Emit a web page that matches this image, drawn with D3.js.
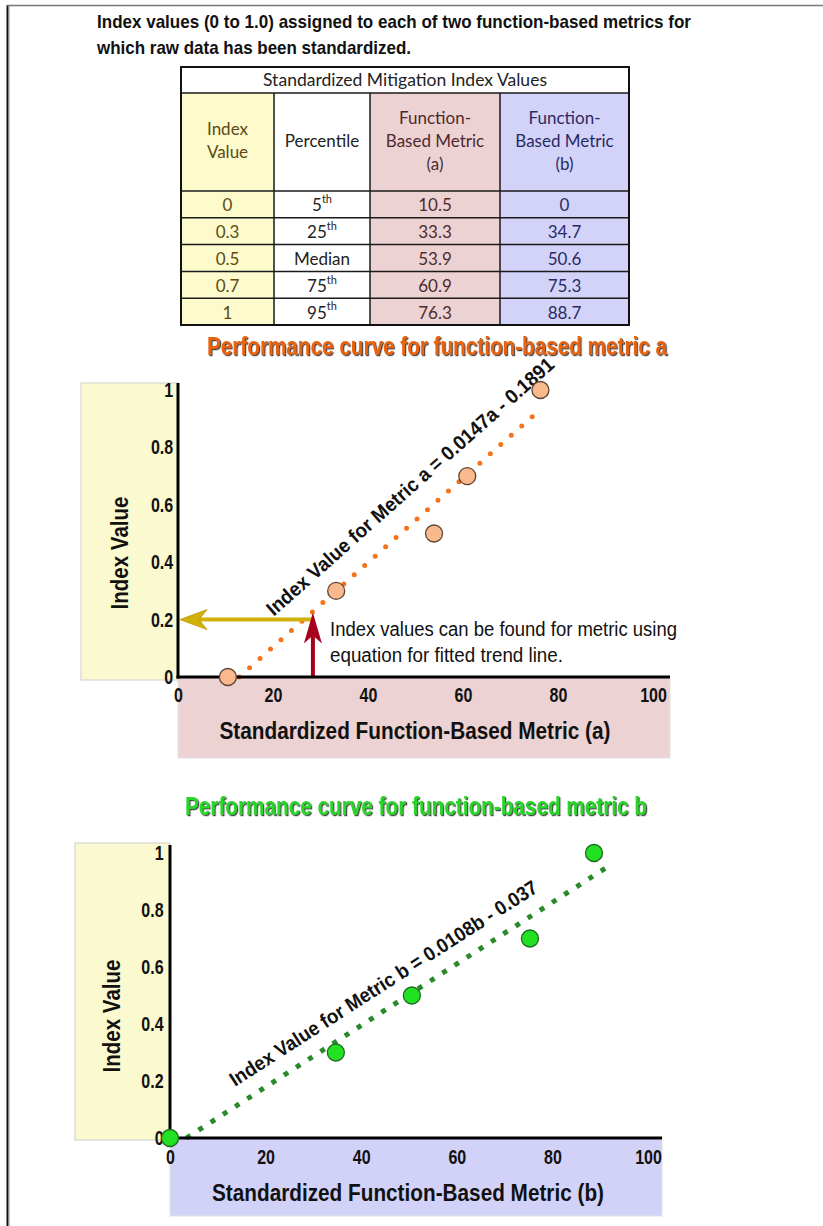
<!DOCTYPE html>
<html>
<head>
<meta charset="utf-8">
<script src="https://cdn.jsdelivr.net/npm/d3@7"></script>
<style>
  html, body { margin: 0; padding: 0; background: #fff; }
  svg { display: block; }
  .narrow { font-family: "Liberation Sans Narrow", "Arial Narrow", "Liberation Sans", Arial, sans-serif; }
  .tbl { font-family: Lato, "Open Sans", "Noto Sans", sans-serif; }
</style>
</head>
<body>
<svg id="fig" width="823" height="1226"></svg>
<script>
// ---- Data ----
const indexValues = [0, 0.3, 0.5, 0.7, 1];
const percentiles = ["5th", "25th", "Median", "75th", "95th"];
const metricA = [10.5, 33.3, 53.9, 60.9, 76.3];
const metricB = [0, 34.7, 50.6, 75.3, 88.7];

// fitted trend lines: [slope, intercept] and the metric value where the drawn line stops
const fitA = [0.0147, -0.1891];
const fitB = [0.0108, -0.037];
const fitEndA = 75;
const fitEndB = 92;

const xTicks = [0, 20, 40, 60, 80, 100];
const yTicks = [0, 0.2, 0.4, 0.6, 0.8, 1];

// worked example on chart a: read 0.2 off the fitted line
const exampleMetricA = 28.4;
const exampleIndexA = 0.2;

const svg = d3.select("#fig");
const defs = svg.append("defs");
defs.append("filter").attr("id", "titleShadow")
  .attr("x", "-5%").attr("y", "-20%").attr("width", "110%").attr("height", "150%")
  .append("feDropShadow")
  .attr("dx", 1.2).attr("dy", 1.2).attr("stdDeviation", 0.7)
  .attr("flood-color", "#333").attr("flood-opacity", 0.9);

// page frame
svg.append("line").attr("x1", 7.5).attr("y1", 5).attr("x2", 7.5).attr("y2", 1226)
  .attr("stroke", "#111").attr("stroke-width", 2);
svg.append("line").attr("x1", 9.5).attr("y1", 6).attr("x2", 9.5).attr("y2", 1226)
  .attr("stroke", "#ccc").attr("stroke-width", 1);
svg.append("line").attr("x1", 7).attr("y1", 5.5).attr("x2", 823).attr("y2", 5.5)
  .attr("stroke", "#777").attr("stroke-width", 1.5);

// ---- Heading ----
const heading = [
  "Index values (0 to 1.0) assigned to each of two function-based metrics for",
  "which raw data has been standardized."
];
const headingLen = [594, 314];
svg.append("g").selectAll("text").data(heading).join("text")
  .attr("class", "narrow")
  .attr("x", 97)
  .attr("y", (d, i) => 28 + i * 26)
  .attr("font-size", 19).attr("font-weight", "bold").attr("fill", "#111")
  .attr("textLength", (d, i) => headingLen[i]).attr("lengthAdjust", "spacingAndGlyphs")
  .text(d => d);

// ---- Table ----
(function drawTable() {
  const colX = [181, 274, 370, 500, 629];
  const colFill = ["#fdfbcb", "#ffffff", "#edd2d3", "#d3d3fa"];
  const colText = ["#5a4a18", "#222222", "#4e2a2c", "#2a2a62"];
  const top = 67, titleBottom = 93, headBottom = 191, rowH = 26.8;
  const fs = 17;
  const g = svg.append("g").attr("class", "tbl");

  // title row
  g.append("rect").attr("x", colX[0]).attr("y", top)
    .attr("width", colX[4] - colX[0]).attr("height", titleBottom - top).attr("fill", "#fff");
  g.append("text").attr("x", (colX[0] + colX[4]) / 2).attr("y", (top + titleBottom) / 2)
    .attr("dy", "0.35em").attr("text-anchor", "middle").attr("font-size", fs)
    .attr("fill", "#222").attr("textLength", 284).attr("lengthAdjust", "spacingAndGlyphs")
    .text("Standardized Mitigation Index Values");

  // column fills
  colFill.forEach((c, i) => {
    g.append("rect").attr("x", colX[i]).attr("y", titleBottom)
      .attr("width", colX[i + 1] - colX[i])
      .attr("height", headBottom - titleBottom + rowH * indexValues.length)
      .attr("fill", c);
  });

  // header cells
  const headers = [["Index", "Value"], ["Percentile"], ["Function-", "Based Metric", "(a)"], ["Function-", "Based Metric", "(b)"]];
  headers.forEach((lines, i) => {
    const cx = (colX[i] + colX[i + 1]) / 2;
    const cy = (titleBottom + headBottom) / 2 - 1;
    lines.forEach((t, j) => {
      g.append("text").attr("x", cx)
        .attr("y", cy + (j - (lines.length - 1) / 2) * 23)
        .attr("dy", "0.35em").attr("text-anchor", "middle")
        .attr("font-size", fs).attr("fill", colText[i]).text(t);
    });
  });

  // data rows
  const cols = [indexValues.map(String), percentiles, metricA.map(d => d.toFixed(1)), metricB.map(String)];
  cols.forEach((vals, i) => {
    const cx = (colX[i] + colX[i + 1]) / 2;
    vals.forEach((v, r) => {
      const t = g.append("text").attr("x", cx)
        .attr("y", headBottom + rowH * (r + 0.5) + 1)
        .attr("dy", "0.35em").attr("text-anchor", "middle")
        .attr("font-size", fs).attr("fill", colText[i]);
      const m = /^(\d+)(th)$/.exec(v);
      if (m) {
        t.append("tspan").text(m[1]);
        t.append("tspan").attr("font-size", 11).attr("dy", "-0.75em").text(m[2]);
      } else {
        t.text(v);
      }
    });
  });

  // grid lines
  const bottom = headBottom + rowH * indexValues.length;
  const hLines = [titleBottom, headBottom].concat(d3.range(1, indexValues.length).map(r => headBottom + rowH * r));
  g.selectAll("line.h").data(hLines).join("line")
    .attr("x1", colX[0]).attr("x2", colX[4]).attr("y1", d => d).attr("y2", d => d)
    .attr("stroke", "#1a1a1a").attr("stroke-width", 1.5);
  g.selectAll("line.v").data(colX.slice(1, 4)).join("line")
    .attr("x1", d => d).attr("x2", d => d).attr("y1", titleBottom).attr("y2", bottom)
    .attr("stroke", "#1a1a1a").attr("stroke-width", 1.5);
  g.append("rect").attr("x", colX[0]).attr("y", top)
    .attr("width", colX[4] - colX[0]).attr("height", bottom - top)
    .attr("fill", "none").attr("stroke", "#111").attr("stroke-width", 2);
})();

// ---- Performance curves ----
function drawChart(o) {
  const g = svg.append("g");
  const x = d3.scaleLinear().domain([0, 100]).range([o.x0, o.x100]);
  const y = d3.scaleLinear().domain([0, 1]).range([o.y0, o.y1]);

  // background panels
  g.append("rect").attr("x", o.yPanel[0]).attr("y", o.yPanel[1])
    .attr("width", o.yPanel[2]).attr("height", o.yPanel[3])
    .attr("fill", "#fbf9cf").attr("stroke", "#d6d6d0").attr("stroke-width", 1.2);
  g.append("rect").attr("x", o.xPanel[0]).attr("y", o.xPanel[1])
    .attr("width", o.xPanel[2]).attr("height", o.xPanel[3])
    .attr("fill", o.xPanelFill).attr("stroke", "#e2e2e2").attr("stroke-width", 1);

  // title
  g.append("text").attr("class", "narrow")
    .attr("x", o.titleX).attr("y", o.titleY).attr("text-anchor", "middle")
    .attr("font-size", 25).attr("font-weight", "bold").attr("fill", o.titleColor)
    .attr("filter", "url(#titleShadow)")
    .attr("textLength", o.titleLen).attr("lengthAdjust", "spacingAndGlyphs")
    .text(o.title);

  // axes tick labels (condensed)
  const ya = g.append("g").attr("class", "narrow")
    .attr("transform", `translate(${o.x0},0)`)
    .call(d3.axisLeft(y).tickValues(yTicks).tickSize(0).tickPadding(o.yPad).tickFormat(d3.format("")));
  const xa = g.append("g").attr("class", "narrow")
    .attr("transform", `translate(0,${o.y0})`)
    .call(d3.axisBottom(x).tickValues(xTicks).tickSize(0).tickPadding(o.xPad).tickFormat(d3.format("")));
  [ya, xa].forEach(a => {
    a.select(".domain").remove();
    a.attr("font-family", null).attr("font-size", null);
    a.selectAll("text").attr("font-size", 20).attr("font-weight", "bold").attr("fill", "#111")
      .attr("transform", "scale(0.8,1)");
  });

  // axis titles
  g.append("text").attr("class", "narrow")
    .attr("x", o.xLabelX).attr("y", o.xLabelY).attr("text-anchor", "middle")
    .attr("font-size", 24).attr("font-weight", "bold").attr("fill", "#111")
    .attr("textLength", o.xLabelLen).attr("lengthAdjust", "spacingAndGlyphs")
    .text(o.xLabel);
  g.append("text").attr("class", "narrow")
    .attr("transform", `translate(${o.yLabelX},${o.yLabelY}) rotate(-90)`)
    .attr("text-anchor", "middle").attr("dy", "0.35em")
    .attr("font-size", 24).attr("font-weight", "bold").attr("fill", "#111")
    .attr("textLength", 113).attr("lengthAdjust", "spacingAndGlyphs")
    .text("Index Value");

  // fitted trend line (dotted)
  const fit = v => o.fit[0] * v + o.fit[1];
  const start = -o.fit[1] / o.fit[0];
  g.append("line")
    .attr("x1", x(start)).attr("y1", y(fit(start)))
    .attr("x2", x(o.fitEnd)).attr("y2", y(fit(o.fitEnd)))
    .attr("stroke", o.trendColor).attr("stroke-width", o.trendWidth)
    .attr("stroke-dasharray", o.trendDash).attr("stroke-linecap", o.trendCap);

  // equation label along the line
  const ax = x(o.eqAt), ay = y(fit(o.eqAt));
  const ang = Math.atan2(y(fit(100)) - y(fit(0)), x(100) - x(0));
  const nx = Math.sin(ang), ny = -Math.cos(ang);
  g.append("text").attr("class", "narrow")
    .attr("transform", `translate(${ax + nx * o.eqOffset},${ay + ny * o.eqOffset}) rotate(${ang * 180 / Math.PI})`)
    .attr("text-anchor", "middle").attr("dy", "0.35em")
    .attr("font-size", 20).attr("font-weight", "bold").attr("fill", "#111")
    .attr("textLength", o.eqLen).attr("lengthAdjust", "spacingAndGlyphs")
    .text(o.eq);

  if (o.extra) o.extra(g, x, y);

  // axis lines
  g.append("line").attr("x1", o.x0).attr("x2", o.x0).attr("y1", o.axisTop).attr("y2", o.y0 + 1.5)
    .attr("stroke", "#000").attr("stroke-width", 3);
  g.append("line").attr("x1", o.x0 - 1.5).attr("x2", o.axisRight).attr("y1", o.y0).attr("y2", o.y0)
    .attr("stroke", "#000").attr("stroke-width", 3);

  // data points
  g.selectAll("circle").data(o.values.map((v, i) => [v, indexValues[i]])).join("circle")
    .attr("cx", d => x(d[0])).attr("cy", d => y(d[1])).attr("r", 8.5)
    .attr("fill", o.markFill).attr("stroke", o.markStroke).attr("stroke-width", 1.3);
}

drawChart({
  x0: 178, x100: 653, y0: 677, y1: 390, axisTop: 383, axisRight: 670,
  yPanel: [81, 383, 97, 297], xPanel: [178, 677, 492, 81], xPanelFill: "#ecd2d2",
  title: "Performance curve for function-based metric a", titleX: 437, titleY: 355, titleLen: 460,
  titleColor: "#e8640e",
  xLabel: "Standardized Function-Based Metric (a)", xLabelX: 415, xLabelY: 739, xLabelLen: 391,
  yLabelX: 120, yLabelY: 553, yPad: 6, xPad: 11,
  values: metricA, fit: fitA, fitEnd: fitEndA,
  trendColor: "#f4731c", trendWidth: 5, trendDash: "0 14", trendCap: "round",
  eq: "Index Value for Metric a = 0.0147a - 0.1891", eqAt: 52.9, eqOffset: 29, eqLen: 377,
  markFill: "#f9b98c", markStroke: "#5c4434",
  extra: (g, x, y) => {
    const ex = x(exampleMetricA), ey = y(exampleIndexA);
    // horizontal arrow back to the index axis
    g.append("line").attr("x1", ex).attr("x2", x(0) + 14).attr("y1", ey).attr("y2", ey)
      .attr("stroke", "#d2b00a").attr("stroke-width", 4);
    const hx = x(0) + 2;
    g.append("path")
      .attr("d", `M${hx},${ey} L${hx + 27},${ey - 10} L${hx + 19},${ey} L${hx + 27},${ey + 10} Z`)
      .attr("fill", "#d2b00a").attr("stroke", "#b89800").attr("stroke-width", 0.8);
    // vertical arrow up from the metric axis
    g.append("line").attr("x1", ex).attr("x2", ex).attr("y1", y(0)).attr("y2", ey + 16)
      .attr("stroke", "#a6001c").attr("stroke-width", 4);
    const vy = ey - 7;
    g.append("path")
      .attr("d", `M${ex},${vy} L${ex + 9},${vy + 31} L${ex},${vy + 23} L${ex - 9},${vy + 31} Z`)
      .attr("fill", "#a6001c");
    // note
    const note = ["Index values can be found for metric using", "equation for fitted trend line."];
    const noteLen = [347, 233];
    g.selectAll("text.note").data(note).join("text").attr("class", "narrow")
      .attr("x", 330).attr("y", (d, i) => 636 + i * 26)
      .attr("font-size", 20).attr("fill", "#111")
      .attr("textLength", (d, i) => noteLen[i]).attr("lengthAdjust", "spacingAndGlyphs")
      .text(d => d);
  }
});

drawChart({
  x0: 170, x100: 648, y0: 1138, y1: 853, axisTop: 845, axisRight: 662,
  yPanel: [75, 843, 95, 297], xPanel: [170, 1138, 492, 78], xPanelFill: "#d2d2f8",
  title: "Performance curve for function-based metric b", titleX: 416, titleY: 815, titleLen: 462,
  titleColor: "#2bd42b",
  xLabel: "Standardized Function-Based Metric (b)", xLabelX: 408, xLabelY: 1201, xLabelLen: 392,
  yLabelX: 112, yLabelY: 1016, yPad: 8, xPad: 12,
  values: metricB, fit: fitB, fitEnd: fitEndB,
  trendColor: "#2a8a2a", trendWidth: 5, trendDash: "5 9.5", trendCap: "butt",
  eq: "Index Value for Metric b = 0.0108b - 0.037", eqAt: 47.3, eqOffset: 23.5, eqLen: 362,
  markFill: "#22e022", markStroke: "#1e6a1e"
});
</script>
</body>
</html>
